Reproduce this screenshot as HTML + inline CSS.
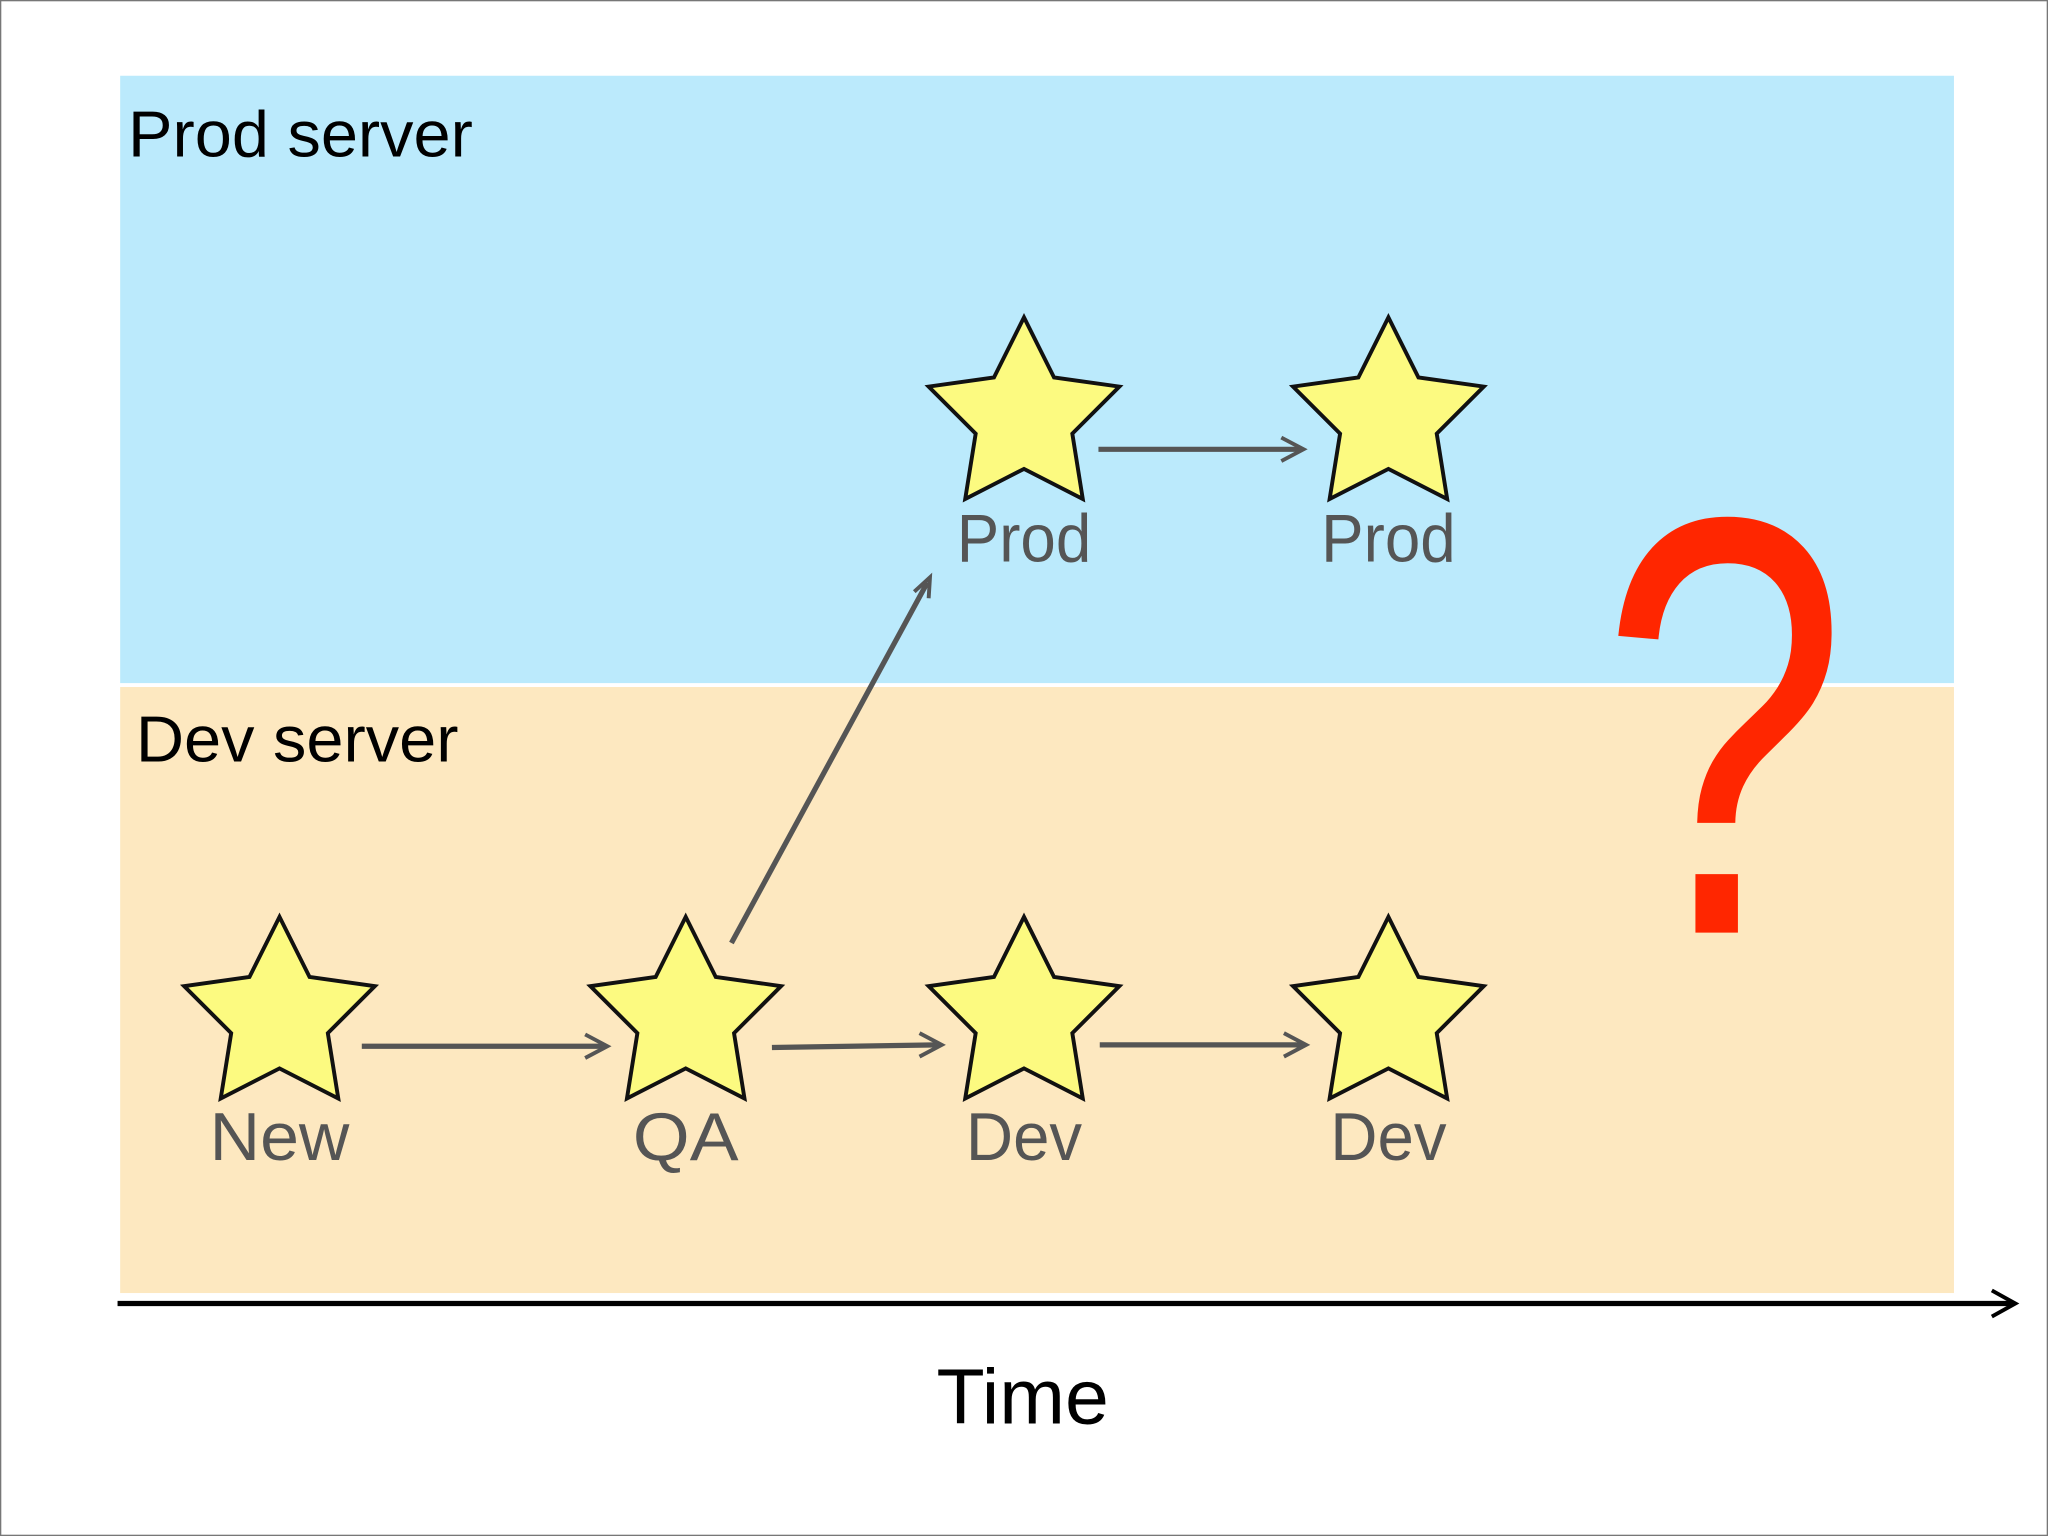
<!DOCTYPE html>
<html><head><meta charset="utf-8"><style>
html,body{margin:0;padding:0;background:#fff}
svg{display:block}
text{font-family:"Liberation Sans",sans-serif}
</style></head><body>
<svg width="2048" height="1536" viewBox="0 0 1568 1176" xmlns="http://www.w3.org/2000/svg">
<defs>
<marker id="a" viewBox="0 0 10 10" refX="9" refY="5" markerWidth="5" markerHeight="5" orient="auto" markerUnits="userSpaceOnUse">
</marker>
<g id="star"><polygon points="0,-77 23,-31 73,-24 37,12 45,62 0,39 -45,62 -37,12 -73,-24 -23,-31" fill="#fcfa80" stroke="#111" stroke-width="3" stroke-linejoin="miter"/></g>
</defs>
<rect x="0.5" y="0.5" width="1567" height="1175" fill="#fff" stroke="#777" stroke-width="1"/>
<rect x="92" y="58" width="1404" height="465" fill="#bbeafc"/>
<rect x="92" y="526" width="1404" height="464" fill="#fde8c0"/>
<text x="98" y="120" font-size="50" textLength="264" lengthAdjust="spacingAndGlyphs" fill="#000">Prod server</text>
<text x="104" y="583" font-size="50" textLength="247" lengthAdjust="spacingAndGlyphs" fill="#000">Dev server</text>
<use href="#star" x="214" y="779"/>
<use href="#star" x="525" y="779"/>
<use href="#star" x="784" y="779"/>
<use href="#star" x="1063" y="779"/>
<use href="#star" x="784" y="320"/>
<use href="#star" x="1063" y="320"/>
<g fill="#555" font-size="52" text-anchor="middle">
<text x="214" y="888" textLength="107" lengthAdjust="spacingAndGlyphs">New</text>
<text x="525" y="888" textLength="81" lengthAdjust="spacingAndGlyphs">QA</text>
<text x="784" y="888" textLength="89" lengthAdjust="spacingAndGlyphs">Dev</text>
<text x="1063" y="888" textLength="89" lengthAdjust="spacingAndGlyphs">Dev</text>
<text x="784" y="430" textLength="103" lengthAdjust="spacingAndGlyphs">Prod</text>
<text x="1063" y="430" textLength="103" lengthAdjust="spacingAndGlyphs">Prod</text>
</g>
<g stroke="#555" stroke-width="4" fill="none">
<line x1="277" y1="801" x2="462" y2="801"/>
<line x1="591" y1="802" x2="718" y2="800"/>
<line x1="842" y1="800" x2="997" y2="800"/>
<line x1="560" y1="722" x2="710" y2="446"/>
<line x1="841" y1="344" x2="995" y2="344"/>
</g>
<g stroke="#555" stroke-width="3" fill="none" stroke-linejoin="miter">
<polyline points="448,792 465,801 448,810"/>
<polyline points="704,791 721,800 704,809"/>
<polyline points="983,791 1000,800 983,809"/>
<polyline points="981,335 998,344 981,353"/>
<polyline points="700,453 712,442 711,458"/>
</g>
<line x1="90" y1="998" x2="1540" y2="998" stroke="#000" stroke-width="4"/>
<polyline points="1525,988 1543,998 1525,1008" fill="none" stroke="#000" stroke-width="3"/>
<text x="783" y="1090" font-size="60" text-anchor="middle" textLength="132" lengthAdjust="spacingAndGlyphs" fill="#000">Time</text>
<text x="1320" y="714" font-size="456" text-anchor="middle" textLength="190" lengthAdjust="spacingAndGlyphs" fill="#ff2600">?</text>
</svg>
</body></html>
